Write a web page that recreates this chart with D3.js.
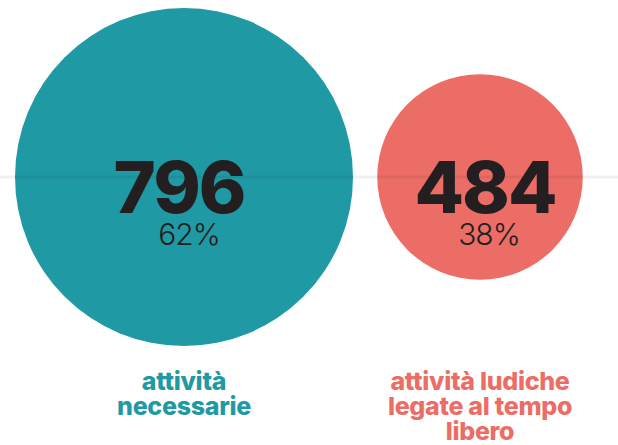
<!DOCTYPE html>
<html lang="it">
<head>
    <meta charset="UTF-8">
    <title>Attività</title>
    <script src="https://d3js.org/d3.v7.min.js"></script>
    <style>
        body { margin: 0; background: #fff; }
        svg { display: block; }
        .num { font-family: Inter, sans-serif; font-weight: 800; fill: #231f20; }
        .pct { font-family: Inter, sans-serif; font-weight: 300; fill: #231f20; }
        .lab { font-family: Inter, sans-serif; font-weight: 800; }
    </style>
</head>
<body>
<svg width="618" height="445"></svg>
<script>
    // data
    const categories = ["attività necessarie", "attività ludiche legate al tempo libero"];
    const values = [796, 484];
    const percents = ["62%", "38%"];
    const labelLines = [["attività", "necessarie"], ["attività ludiche", "legate al tempo", "libero"]];
    const colors = ["#1f9aa4", "#ec6d66"];

    const svg = d3.select("svg");
    const cy = 177;

    // radius is linear in the value in the original
    const r = d3.scaleLinear().domain([0, d3.max(values)]).range([0, 169]);
    const x = d3.scaleOrdinal().domain(categories).range([184, 480]);

    const items = categories.map((c, i) => ({ c, v: values[i], p: percents[i], lines: labelLines[i], col: colors[i] }));

    svg.selectAll("circle")
        .data(items)
        .join("circle")
        .attr("cx", d => x(d.c))
        .attr("cy", cy)
        .attr("r", d => r(d.v))
        .attr("fill", d => d.col);

    // faint baseline across the page
    svg.append("line")
        .attr("x1", 0).attr("x2", 618)
        .attr("y1", cy).attr("y2", cy)
        .attr("stroke", "rgba(0,0,0,0.06)")
        .attr("stroke-width", 3);

    const g = svg.selectAll("g.item")
        .data(items)
        .join("g")
        .attr("class", "item")
        .attr("transform", d => `translate(${x(d.c)},0)`);

    g.append("text")
        .attr("class", "num")
        .attr("text-anchor", "middle")
        .attr("x", (d, i) => i === 0 ? -5 : 5)
        .attr("y", 213)
        .style("font-size", "72px")
        .style("letter-spacing", "-2px")
        .text(d => d.v);

    g.append("text")
        .attr("class", "pct")
        .attr("text-anchor", "middle")
        .attr("x", (d, i) => i === 0 ? 5 : 9)
        .attr("y", 245)
        .style("font-size", "30px")
        .style("letter-spacing", "-1px")
        .text(d => d.p);

    g.append("text")
        .attr("class", "lab")
        .attr("text-anchor", "middle")
        .attr("fill", d => d.col)
        .style("font-size", "25px")
        .style("letter-spacing", "-0.3px")
        .selectAll("tspan")
        .data(d => d.lines)
        .join("tspan")
        .attr("x", 0)
        .attr("y", (d, i) => 390 + i * 25)
        .text(d => d);
</script>
</body>
</html>
